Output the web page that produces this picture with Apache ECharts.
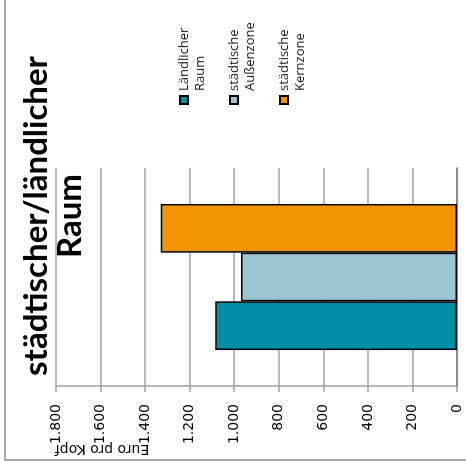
<!DOCTYPE html>
<html>
<head>
<meta charset="utf-8">
<script src="https://cdn.jsdelivr.net/npm/echarts@6/dist/echarts.min.js"></script>
<style>
  html, body { margin: 0; padding: 0; background: #fff; overflow: hidden; }
  /* The chart is laid out upright, then turned a quarter turn counter-clockwise */
  #chart {
    position: absolute; left: 0; top: 0;
    width: 467px; height: 466px;
    transform-origin: 0 0;
    transform: translateY(467px) rotate(-90deg);
  }
</style>
</head>
<body>
<div id="chart"></div>
<script>
// Spending per inhabitant by settlement type
const titleText = 'städtischer/ländlicher\nRaum';
const axisTitle = 'Euro pro Kopf';
const categories = ['städtischer/ländlicher Raum'];
const seriesNames = ['Ländlicher Raum', 'städtische Außenzone', 'städtische Kernzone'];
const legendLabels = ['Ländlicher\nRaum', 'städtische\nAußenzone', 'städtische\nKernzone'];
const ruralValues = [1085];
const outerZoneValues = [970];
const coreZoneValues = [1330];
const valueMin = 0;
const valueMax = 1800;
const valueStep = 200;

const seriesValues = [ruralValues, outerZoneValues, coreZoneValues];
const seriesColors = ['#008ea6', '#9dc4d2', '#f29400'];

function germanThousands(v) {
  return String(v).replace(/\B(?=(\d{3})+(?!\d))/g, '.');
}

const chart = echarts.init(document.getElementById('chart'), null, { renderer: 'canvas' });

const option = {
  animation: false,
  backgroundColor: '#ffffff',
  grid: { left: 81, right: 168, top: 56, bottom: 9 },
  xAxis: {
    type: 'category',
    data: categories,
    axisLabel: { show: false },
    axisTick: { show: false },
    axisLine: { lineStyle: { color: '#7a7a7a', width: 1.5 } }
  },
  yAxis: {
    type: 'value',
    min: valueMin,
    max: valueMax,
    interval: valueStep,
    axisLine: { show: true, lineStyle: { color: '#a0a0a0', width: 1.5 } },
    axisTick: { show: true, length: 6, lineStyle: { color: '#a0a0a0', width: 1.5 } },
    splitLine: { show: true, lineStyle: { color: '#a0a0a0', width: 1.5 } },
    axisLabel: {
      margin: 18,
      fontFamily: 'DejaVu Sans',
      fontSize: 14,
      color: '#000',
      formatter: germanThousands
    }
  },
  legend: {
    orient: 'vertical',
    left: 362,
    top: 160,
    padding: 0,
    itemWidth: 8,
    itemHeight: 8,
    itemGap: 2,
    icon: 'rect',
    data: seriesNames,
    // a blank first line keeps the swatch level with the first word
    formatter: function (name) {
      return ' \n' + legendLabels[seriesNames.indexOf(name)];
    },
    textStyle: {
      fontFamily: 'Open Sans',
      fontSize: 13,
      color: '#1a1a1a',
      lineHeight: 16
    }
  },
  series: seriesNames.map(function (name, i) {
    return {
      name: name,
      type: 'bar',
      data: seriesValues[i],
      barGap: '0%',
      barCategoryGap: '33%',
      itemStyle: { color: seriesColors[i], borderColor: '#000', borderWidth: 1.5 }
    };
  }),
  graphic: [
    {
      type: 'rect',
      z: -1,
      shape: { x: 7, y: 5, width: 470, height: 470 },
      style: { fill: 'none', stroke: '#8c8c8c', lineWidth: 1.5 }
    },
    {
      type: 'text',
      x: 251,
      y: 19,
      style: {
        text: titleText,
        fontFamily: 'Lato',
        fontWeight: 'bold',
        fontSize: 33,
        lineHeight: 34,
        fill: '#000',
        align: 'center',
        textAlign: 'center',
        verticalAlign: 'top',
        textVerticalAlign: 'top'
      }
    },
    {
      type: 'text',
      x: 18,
      y: 102,
      rotation: Math.PI / 2,
      style: {
        text: axisTitle,
        fontFamily: 'DejaVu Sans',
        fontSize: 14,
        fill: '#000',
        align: 'center',
        textAlign: 'center',
        verticalAlign: 'middle',
        textVerticalAlign: 'middle'
      }
    }
  ]
};

chart.setOption(option);
</script>
</body>
</html>
